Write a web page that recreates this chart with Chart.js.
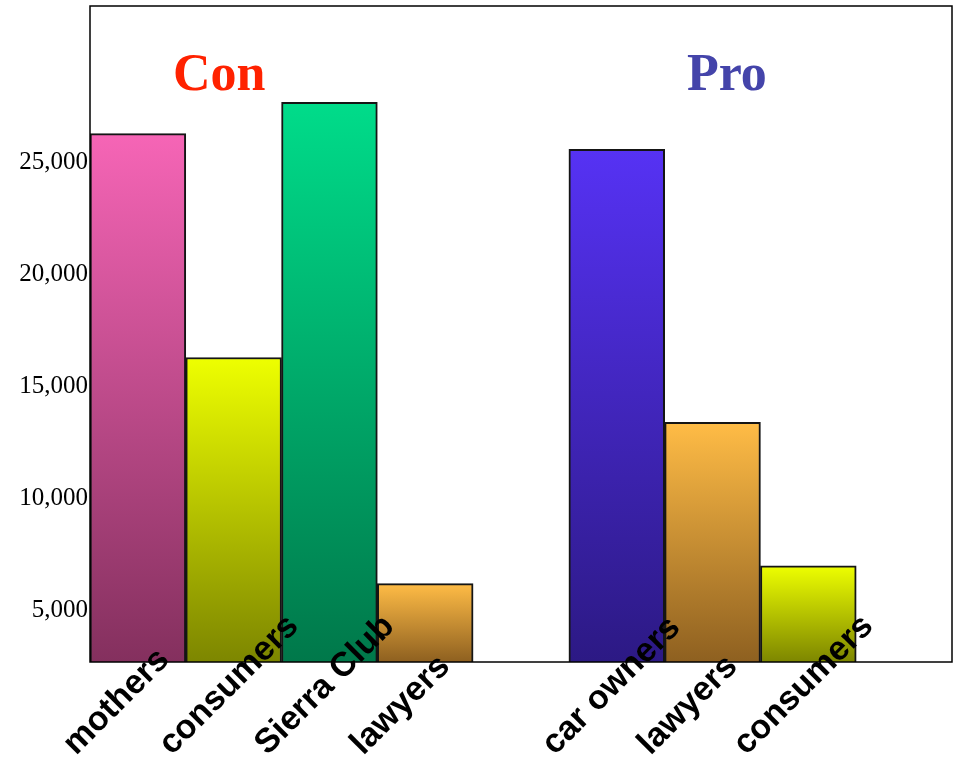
<!DOCTYPE html>
<html>
<head>
<meta charset="utf-8">
<script src="https://cdn.jsdelivr.net/npm/chart.js@4.4.1/dist/chart.umd.min.js"></script>
<style>
  body { margin: 0; background: #fff; }
  .canvas { width: 954px; height: 760px; }
</style>
</head>
<body>
<div class="canvas"><canvas id="chart"></canvas></div>
<script>
// data
const conGroups = ["mothers", "consumers", "Sierra Club", "lawyers"];
const conValues = [26300, 16300, 27700, 6200];
const proGroups = ["car owners", "lawyers", "consumers"];
const proValues = [25600, 13400, 7000];
const yTicks = [5000, 10000, 15000, 20000, 25000];
const yMin = 2700;
const yMax = 32000;

// one empty slot after each group makes the gaps
const labels = [...conGroups, "", ...proGroups, ""];
const values = [...conValues, null, ...proValues, null];

// gradient colours per group name (top, bottom)
const colours = {
  "mothers": ["#f665b6", "#84305e"],
  "consumers": ["#eeff00", "#7d8600"],
  "Sierra Club": ["#00dc8a", "#00784a"],
  "lawyers": ["#ffbc46", "#8e6020"],
  "car owners": ["#5632f4", "#2c1984"],
};

const barFill = (ctx) => {
  const chart = ctx.chart;
  const name = labels[ctx.dataIndex];
  const c = colours[name] || ["#999", "#666"];
  if (!chart.chartArea) return c[0];
  const v = values[ctx.dataIndex];
  if (v == null) return c[0];
  const top = chart.scales.y.getPixelForValue(v);
  const bottom = chart.scales.y.getPixelForValue(yMin);
  const g = chart.ctx.createLinearGradient(0, top, 0, bottom);
  g.addColorStop(0, c[0]);
  g.addColorStop(1, c[1]);
  return g;
};

// frame, group titles and slanted category labels
const decorations = {
  id: "decorations",
  afterDraw(chart) {
    const ctx = chart.ctx;
    const area = chart.chartArea;
    const x = chart.scales.x;
    ctx.save();
    ctx.strokeStyle = "#000";
    ctx.lineWidth = 1.5;
    ctx.strokeRect(area.left, area.top, area.right - area.left, area.bottom - area.top);

    ctx.font = "bold 52px 'Liberation Serif'";
    ctx.textAlign = "center";
    ctx.textBaseline = "alphabetic";
    ctx.fillStyle = "#ff2200";
    ctx.fillText("Con", x.getPixelForValue(0.85), area.top + 84);
    ctx.fillStyle = "#4444aa";
    ctx.fillText("Pro", x.getPixelForValue(6.15), area.top + 84);

    ctx.font = "bold 34px 'Liberation Sans'";
    ctx.fillStyle = "#000";
    ctx.textAlign = "left";
    labels.forEach((lab, i) => {
      if (!lab) return;
      const px = x.getPixelForValue(i);
      ctx.save();
      ctx.translate(px - 62, area.bottom + 94);
      ctx.rotate(-Math.PI / 4);
      ctx.fillText(lab, 0, 0);
      ctx.restore();
    });
    ctx.restore();
  },
};

const config = {
  type: "bar",
  data: {
    labels: labels,
    datasets: [
      {
        data: values,
        backgroundColor: barFill,
        borderColor: "#151515",
        borderWidth: 2,
        borderSkipped: false,
        barPercentage: 1,
        categoryPercentage: 1,
      },
    ],
  },
  options: {
    responsive: true,
    maintainAspectRatio: false,
    animation: false,
    layout: { padding: { top: 6, right: 2, bottom: 98, left: 0 } },
    plugins: {
      legend: { display: false },
      tooltip: { enabled: false },
    },
    scales: {
      x: {
        display: false,
      },
      y: {
        min: yMin,
        max: yMax,
        afterBuildTicks: (axis) => {
          axis.ticks = yTicks.map((v) => ({ value: v }));
        },
        afterFit: (axis) => {
          axis.width = 90;
          axis.paddingTop = 0;
          axis.paddingBottom = 0;
        },
        grid: { display: false, drawTicks: false },
        border: { display: false },
        ticks: {
          padding: 2,
          color: "#000",
          font: { family: "'Liberation Serif'", size: 25 },
          callback: (v) => v.toLocaleString("en-US"),
        },
      },
    },
  },
  plugins: [decorations],
};

new Chart(document.getElementById("chart"), config);
</script>
</body>
</html>
